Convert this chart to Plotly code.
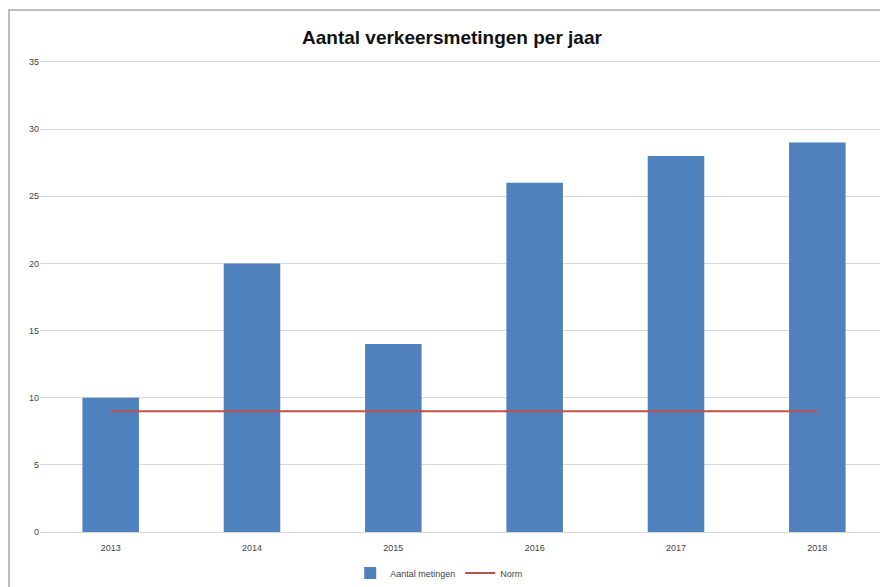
import plotly.graph_objects as go

jaren = ["2013", "2014", "2015", "2016", "2017", "2018"]
metingen = [10, 20, 14, 26, 28, 29]
norm = [9, 9, 9, 9, 9, 9]

fig = go.Figure()

fig.add_trace(go.Bar(
    x=jaren, y=metingen, name="Aantal metingen",
    marker=dict(color="#4f81bd", line=dict(width=0)),
    width=0.4,
))

fig.add_trace(go.Scatter(
    x=jaren, y=norm, name="Norm", mode="lines",
    line=dict(color="#c0504d", width=2),
))

# grey frame around the chart, like the spreadsheet chart border
fig.add_shape(type="rect", xref="paper", yref="paper",
              x0=-0.0366, x1=1.02, y0=-0.2, y1=1.1106,
              line=dict(color="#a6a6a6", width=1.5), layer="below")

# page body has an 8px margin, so the figure is sized 8px smaller
fig.update_layout(
    width=880, height=579,
    paper_bgcolor="white", plot_bgcolor="white",
    margin=dict(l=32, r=0, t=54, b=55, autoexpand=False),
    title=dict(text="<b>Aantal verkeersmetingen per jaar</b>",
               xref="container", yref="container",
               x=0.5045, xanchor="center", y=0.95, yanchor="middle",
               font=dict(family="Liberation Sans", size=19, color="#111111")),
    font=dict(family="Liberation Sans", size=9, color="#444444"),
    showlegend=True,
    legend=dict(orientation="h", xref="container", yref="container",
                x=0.49, xanchor="center", y=0.024, yanchor="middle",
                font=dict(size=9, color="#444444")),
    bargap=0.6,
)

fig.update_xaxes(type="category", showgrid=False, ticks="",
                 showline=True, mirror=True, linecolor="#d9d9d9", linewidth=1,
                 automargin=False, ticklabelstandoff=7,
                 tickfont=dict(size=9, color="#444444"))
fig.update_yaxes(range=[0, 35], dtick=5, showgrid=True, gridcolor="#d9d9d9", gridwidth=1,
                 zeroline=True, zerolinecolor="#d9d9d9", zerolinewidth=1,
                 showline=False, ticks="", automargin=False,
                 tickfont=dict(size=9, color="#444444"))

fig.write_html("out.html")
